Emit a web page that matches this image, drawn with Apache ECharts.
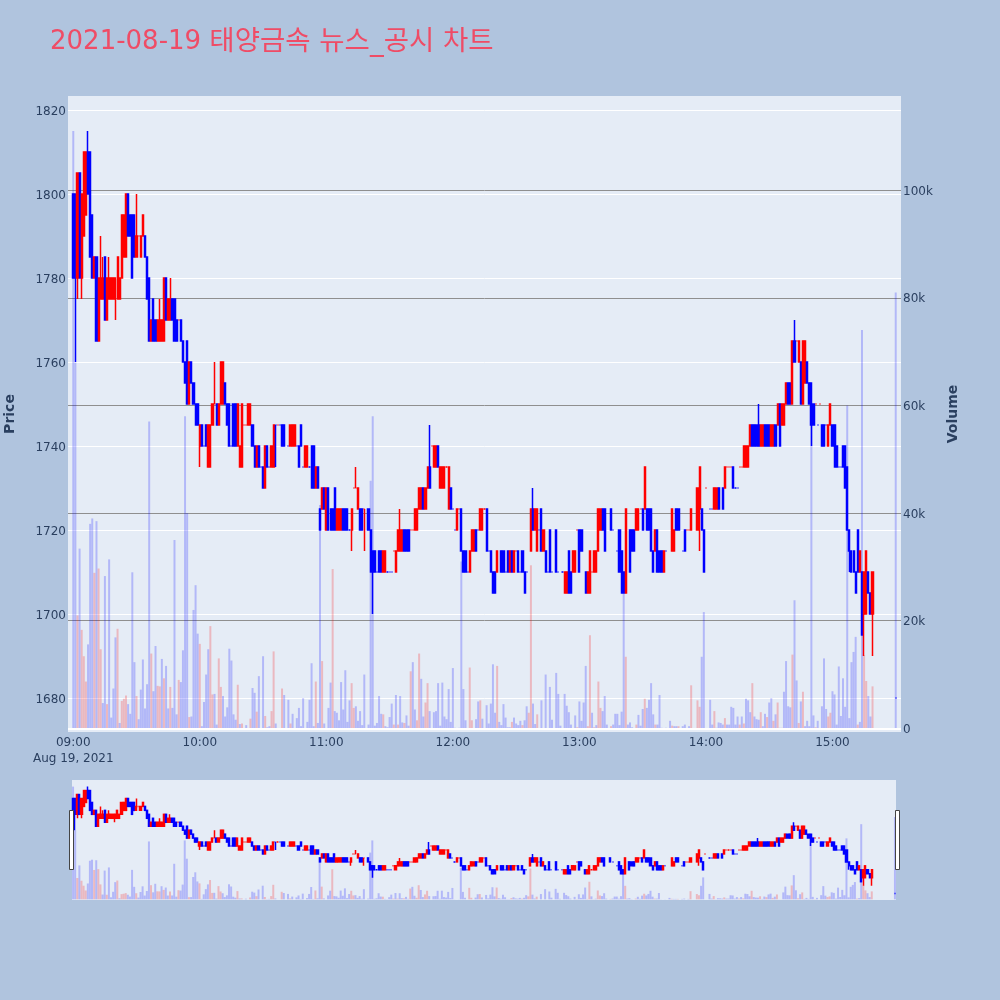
<!DOCTYPE html>
<html><head><meta charset="utf-8">
<style>html,body{margin:0;padding:0;background:#B0C4DE}#c{width:1000px;height:1000px}</style>
<script src="https://cdn.jsdelivr.net/npm/echarts@6/dist/echarts.min.js"></script>
</head><body><div id="c"></div>
<script>
const titleDate = '2021-08-19';
const titleName = '태양금속 뉴스_공시 차트';
const dateLabel = 'Aug 19, 2021';
const priceTicks = [1680,1700,1720,1740,1760,1780,1800,1820];
const volumeTicks = [0,20,40,60,80,100];
// one row per minute from 09:00: [open, close] or [open, close, low, high]; null = no trade
const candles = [
[1800,1780],[1800,1780,1760,1800],[1780,1805,1775,1805],[1805,1780],[1780,1800,1775,1800],[1790,1810],[1795,1810],[1810,1800,1800,1815],[1810,1785],[1795,1780],
[1780,1785],[1785,1765],[1765,1780],[1775,1780,1775,1790],[1775,1780,1775,1785],[1785,1770],[1770,1780],[1775,1780,1775,1785],[1775,1780],[1775,1780],
[1775,1780,1770,1780],[1775,1785],[1775,1780],[1780,1795],[1785,1795],[1785,1800],[1800,1790],[1795,1790],[1795,1780],[1795,1785],
[1785,1790,1785,1800],[1790,1790],[1785,1790],[1790,1795],[1790,1785],[1785,1775],[1780,1765],[1765,1770],[1775,1765],[1770,1765],
[1765,1770],[1765,1770,1765,1775],[1765,1770],[1765,1780],[1780,1770],[1770,1775],[1770,1775,1770,1780],[1775,1770],[1775,1765],[1770,1765],
[1770,1770],[1770,1765],[1765,1760],[1760,1755],[1765,1750],[1750,1760],[1760,1755],[1755,1750],[1750,1745],[1750,1745],
[1740,1745,1735,1745],[1745,1740],[1740,1740],[1745,1740],[1735,1745],[1735,1745],[1745,1750],[1750,1750,1750,1760],[1750,1745],[1745,1750],
[1750,1760],[1750,1760],[1755,1750],[1750,1745],[1750,1740],[1740,1740],[1750,1740],[1750,1740],[1740,1750],[1735,1740],
[1735,1750],[1745,1745],[1745,1745],[1745,1750],[1745,1750],[1745,1740],[1740,1735],[1735,1740],[1740,1735],[1735,1735],
[1735,1730],[1730,1740],[1740,1735],[1735,1735],[1735,1740],[1735,1745],[1745,1745,1735,1745],[1745,1745],[1745,1745],[1745,1740],
[1745,1740],null,[1740,1740],[1740,1745],[1740,1745],[1740,1745],[1740,1740],[1740,1735],[1745,1740],[1735,1735],
[1735,1740],[1735,1740],[1735,1735],[1740,1730],[1740,1730],[1730,1735],[1735,1730],[1725,1720],[1725,1730],[1730,1725],
[1720,1730],[1730,1720],[1725,1720],[1725,1720],[1730,1720],[1720,1725],[1720,1725],[1720,1725],[1725,1720],[1725,1720],
[1725,1720],[1720,1720],[1720,1725,1715,1725],[1730,1730],[1730,1730,1730,1735],[1725,1730],[1725,1720],[1725,1720],[1725,1725,1715,1725],null,
[1725,1720],[1720,1710],[1715,1710,1700,1715],[1715,1710],[1710,1710],[1715,1710],[1715,1710],[1710,1715],[1710,1715],[1710,1710],
[1710,1710],[1710,1710],[1715,1715],[1710,1715],[1715,1720],[1715,1720,1715,1725],[1715,1720],[1720,1715],[1720,1715],[1720,1715],
[1720,1720],[1720,1720],[1720,1725],[1720,1725],[1725,1730],[1725,1730],[1730,1725],[1725,1730],[1730,1735],[1735,1730,1730,1745],
[1740,1740],[1735,1740],[1735,1740],[1740,1735],[1730,1735],[1730,1735],[1730,1735],[1735,1735],[1725,1735],[1730,1725],
[1725,1725],[1720,1720],[1720,1725],[1725,1725],[1725,1715],[1715,1710],[1715,1710],[1710,1710],[1710,1715],[1715,1720],
[1715,1720],[1720,1715],[1720,1720],[1720,1725],[1720,1725],[1725,1725],[1725,1715],[1715,1715],[1715,1710],[1710,1705],
[1710,1705],[1710,1715],null,[1715,1710],[1715,1710],[1710,1710],[1715,1710],[1710,1715],[1715,1710],[1710,1715],
[1715,1715],[1715,1710],[1710,1710],[1715,1710],[1710,1705],[1710,1710],null,[1715,1725],[1725,1720,1720,1730],[1720,1725],
[1715,1725],[1720,1720],[1725,1715],[1715,1720],[1715,1710],[1710,1710],[1720,1710],[1710,1710],null,[1720,1710],
[1710,1710],null,[1710,1710],[1705,1710],[1705,1710],[1715,1705],[1710,1705],[1710,1715],[1710,1715],[1720,1720],
[1720,1710],[1720,1715],null,[1710,1705],[1705,1710],[1705,1715],[1710,1710],[1710,1715],[1710,1715],[1715,1725],
[1720,1725],[1725,1720],[1725,1715],null,null,[1725,1720],[1720,1720],null,[1715,1715],[1720,1710],
[1715,1705],[1710,1705],[1705,1725],null,[1720,1710],[1720,1715],[1720,1715],[1720,1725],[1720,1725],[1725,1725],
[1725,1720],[1725,1735],[1725,1720],[1725,1720],[1725,1715],[1715,1710],[1715,1720],[1720,1710],[1715,1710],[1715,1710],
[1710,1715],[1715,1715],null,null,[1715,1725],[1715,1720],[1725,1720],[1725,1720],null,[1715,1715],
[1720,1715],[1720,1720],[1720,1720],[1720,1725],null,null,[1720,1730],[1725,1735,1715,1735],[1725,1720],[1720,1710],
[1730,1730],null,[1725,1725],[1725,1725],[1725,1730],[1725,1730],[1730,1725],null,[1730,1725],[1730,1735],
[1735,1735],[1735,1735],[1735,1735],[1735,1730],[1730,1730],[1730,1730],[1735,1735],[1735,1735],[1735,1740],[1735,1740],
[1735,1740],[1740,1745],[1745,1740],[1745,1740],[1745,1740],[1745,1740,1740,1750],[1740,1745],[1740,1745],[1745,1740],[1745,1740],
[1745,1740],[1740,1745],[1740,1745],[1745,1740],[1745,1750],[1750,1740],[1745,1750],[1745,1750],[1750,1755],[1755,1750],
[1755,1750],[1750,1765],[1765,1760,1760,1770],[1765,1765],[1760,1765],[1760,1750],[1750,1765],[1755,1765],[1760,1755],[1755,1750],
[1755,1745,1740,1755],[1750,1745],[1750,1750],[1745,1745],[1750,1750],[1745,1740],[1745,1740],[1745,1745],[1740,1745],[1745,1750],
[1745,1740],[1745,1735],[1740,1735],[1735,1735],[1735,1735],[1740,1735],[1740,1730],[1735,1720],[1720,1715,1710,1720],[1715,1710],
[1715,1710],[1710,1705],[1720,1710],[1710,1715],[1710,1695],[1700,1710,1690,1710],[1700,1715],[1710,1705],[1705,1700],[1700,1710,1690,1710],
null,null,null,null,null,null,null,null,null,null,[1680,1680]
];
// minutes whose open equals close and which are drawn red
const redDashes = [31,50,67,81,82,97,133,134,138,152,160,161,170,177,183,195,210,239,246,269,291,292,300,310,311,312,316,317,343,352,354];
// volume in thousands per minute from 09:00
const volumes = [
111,68,21,33.4,18.3,13.4,8.7,15.6,38,39,
28.9,38.5,29.7,14.7,4.7,28.3,4.5,31.4,2,7.4,
16.9,18.5,1,5.1,5.5,6.1,4.5,2.7,29,12.3,
6,1.7,7.2,12.8,3.7,8.2,57,13.9,6.9,15.3,
7.9,7.8,12.9,9.3,11.6,3.7,7.7,3.8,35,2.6,
9,8.6,14.5,58,40,2.1,2.2,22,26.6,17.6,
15.7,.4,4.9,10,14.7,19,6.3,6.4,.7,13,
7.7,6,2.2,3.9,14.8,12.6,2.6,1.6,8.1,.8,
.9,0,.6,0,1.8,7.5,6.6,3.1,9.7,0,
13.4,2.3,.2,.4,3.2,14.3,.9,0,0,7.4,
6.2,0,5.3,.9,2.7,0,1.9,3.8,.4,5.6,
0,1.2,5.3,12.1,.4,8.7,1,41.5,12.5,.9,
0,3.8,8.5,29.6,3.2,2.9,1.5,8.6,3.5,10.8,
1.2,5.2,8.4,3.8,4.1,1.4,3.2,.6,10,0,
.7,46,58,.5,1,6,2.7,2.6,.4,.2,
2.1,4.6,.7,6.2,.7,6,1.1,1,2.4,.5,
10.6,12.3,3.5,1.5,13.9,9.2,2.2,4.8,8.4,3.2,
0,3,3.2,8.4,.5,8.5,2.2,1.7,7.3,1.2,
11.2,.1,0,.1,31,7.3,1.5,0,11.3,1.5,
0,1.7,5,5.2,1.8,0,4.3,.9,4.6,11.9,
2.9,11.6,1.2,.6,4.5,2,.2,.2,1.2,2,
.9,.6,1.4,.6,1.5,4.1,2.9,30.3,4.6,.8,
2.6,0,5.2,0,10,0,7.7,1.6,0,10.3,
6.4,.5,0,6.4,4.2,3,.7,0,2.4,.2,
5,1.4,4.8,11.6,.4,17.3,2.9,.2,.6,8.7,
3.8,3.2,6,.7,0,.4,.7,2.7,2.7,.6,
3.1,25,13.3,.7,1.1,.2,0,.7,2.5,.5,
3.6,5.5,3.8,5.3,8.4,2.6,.7,.7,6.2,.1,
0,.1,0,1.4,.5,.4,.4,.4,0,.4,
.7,0,.4,8,0,0,5.2,4,13.3,21.6,
0,0,5.3,.7,3.2,.1,1.1,1,.7,1.9,
.7,.7,4,3.8,.7,2.2,.7,2.2,.9,5.5,
5.2,3,8.4,2.2,1.7,1.6,3,.4,2.7,2.1,
4.8,5.6,1.4,2.6,4.8,.1,.1,6.8,12.5,4.1,
3.9,13.7,23.8,8.9,1,5,6.8,.4,1.4,.4,
60,2.4,.2,1.4,0,4.1,13,3.6,2.2,2.9,
6.9,6.3,.7,11.5,2.3,9.3,4,60,1.9,12.3,
14.2,17,.7,1.2,74,13.6,8.8,6,2.2,7.8,
0,0,0,0,0,0,0,0,0,0,81
];
// minutes whose volume bar is red
const redVolumes = [2,4,5,6,10,12,13,16,21,23,24,25,30,37,40,41,43,46,50,55,60,65,66,69,70,78,80,84,87,91,94,95,99,103,115,118,123,132,133,147,152,154,157,160,163,164,167,168,188,189,193,201,208,213,216,217,220,239,244,245,247,249,250,255,262,267,271,276,284,287,293,296,297,304,309,316,318,322,326,329,332,334,336,341,344,346,352,358,359,372,375,376,379];

const RED='#ff0000', BLUE='#0000ff', INK='#2a3f5f', TITLE='#EF4C66';
const FONT='"DejaVu Sans","Noto Sans CJK KR",sans-serif';
const PAD=2;
const minuteLabel=m=>{const t=540+m;return String(Math.floor(t/60)).padStart(2,'0')+':'+String(t%60).padStart(2,'0');};
const minutes=volumes.map((_,i)=>i);
const allMinutes=[];for(let m=-PAD;m<volumes.length+PAD;m++)allMinutes.push(m);
const BLANK=['-','-','-','-'];

const candleItems=candles.map((r,i)=>{
  if(!r)return {value:BLANK};
  const o=r[0],c=r[1],l=r.length>2?r[2]:Math.min(o,c),h=r.length>2?r[3]:Math.max(o,c);
  const item={value:[o,c,l,h]};
  if(o===c){const col=redDashes.includes(i)?RED:BLUE;item.itemStyle={color:col,color0:col,borderColor:col,borderColor0:col,borderColorDoji:col};}
  return item;
});
const volumeItems=volumes.map((v,i)=>({value:v||'-',itemStyle:{color:redVolumes.includes(i)?RED:BLUE,opacity:0.22}}));
const padC=[...Array(PAD).fill({value:BLANK}),...candleItems,...Array(PAD).fill({value:BLANK})];
const padV=[...Array(PAD).fill('-'),...volumeItems,...Array(PAD).fill('-')];
const candleStyle={color:RED,color0:BLUE,borderColor:RED,borderColor0:BLUE,borderColorDoji:BLUE,borderWidth:1.5};
const priceRange={min:1671.9,max:1823.33};
const volRange={min:-0.68,max:117.5};
const tickRich={t:{fontFamily:FONT,fontSize:12,color:INK,padding:[3,0,0,0]}};

const option={
  animation:false,
  backgroundColor:'#B0C4DE',
  textStyle:{fontFamily:FONT},
  title:{text:'{a|'+titleDate+' }{b|'+titleName+'}',left:45,top:24,textStyle:{fontWeight:'normal',rich:{
    a:{fontFamily:FONT,fontSize:26,fontWeight:'normal',color:TITLE},
    b:{fontFamily:FONT,fontSize:27.5,fontWeight:'normal',color:TITLE}}}},
  grid:[
    {left:68,top:96,width:833,height:636,show:true,backgroundColor:'#E5ECF6',borderWidth:0,outerBoundsMode:'none'},
    {left:72,top:780,width:824,height:120,show:true,backgroundColor:'#E5ECF6',borderWidth:0,outerBoundsMode:'none'}
  ],
  xAxis:[
    {type:'category',gridIndex:0,data:allMinutes,boundaryGap:true,
     axisLine:{show:false},axisTick:{show:false},splitLine:{show:false},
     axisLabel:{color:INK,fontSize:12,fontFamily:FONT,margin:3,lineHeight:16,
       interval:(i,v)=>{const m=+v;return m>=0&&m%60===0&&m<390;},
       formatter:v=>{const m=+v;return m===0?minuteLabel(m)+'\n'+dateLabel:minuteLabel(m);}}},
    {type:'category',gridIndex:1,data:minutes,boundaryGap:true,show:false}
  ],
  yAxis:[
    {type:'value',gridIndex:0,position:'left',...priceRange,scale:true,
     name:'Price',nameLocation:'middle',nameRotate:90,nameGap:51,
     nameTextStyle:{color:INK,fontSize:14,fontWeight:'bold',fontFamily:FONT},
     axisLine:{show:false},
     axisTick:{show:false,customValues:priceTicks},
     axisLabel:{margin:2,customValues:priceTicks,formatter:v=>'{t|'+v+'}',rich:tickRich},
     splitLine:{show:true,lineStyle:{color:'#ffffff',width:1}}},
    {type:'value',gridIndex:0,position:'right',...volRange,
     name:'Volume',nameLocation:'middle',nameRotate:90,nameGap:45,
     nameTextStyle:{color:INK,fontSize:14,fontWeight:'bold',fontFamily:FONT},
     axisLine:{show:false},
     axisTick:{show:false,customValues:volumeTicks},
     axisLabel:{margin:2,customValues:volumeTicks,formatter:v=>'{t|'+(v===0?'0':v+'k')+'}',rich:tickRich},
     splitLine:{show:true,lineStyle:{color:'#8f8f8f',width:1}}},
    {type:'value',gridIndex:1,...priceRange,scale:true,show:false},
    {type:'value',gridIndex:1,...volRange,show:false}
  ],
  series:[
    {type:'candlestick',xAxisIndex:0,yAxisIndex:0,data:padC,barWidth:1.6,itemStyle:candleStyle,z:3},
    {type:'bar',xAxisIndex:0,yAxisIndex:1,data:padV,barWidth:2,z:4,
     markLine:{silent:true,symbol:'none',label:{show:false},lineStyle:{color:'#ffffff',width:2,type:'solid'},data:[{yAxis:0}]}},
    {type:'candlestick',xAxisIndex:1,yAxisIndex:2,data:candleItems,barWidth:1.6,itemStyle:candleStyle,z:3},
    {type:'bar',xAxisIndex:1,yAxisIndex:3,data:volumeItems,barWidth:2,z:4}
  ],
  graphic:[
    {type:'rect',shape:{x:69.5,y:810.5,width:4,height:59},style:{fill:'#fff',stroke:'#444',lineWidth:1},z:20},
    {type:'rect',shape:{x:895.5,y:810.5,width:4,height:59},style:{fill:'#fff',stroke:'#444',lineWidth:1},z:20}
  ]
};
echarts.init(document.getElementById('c'),null,{renderer:'canvas'}).setOption(option);
</script></body></html>
